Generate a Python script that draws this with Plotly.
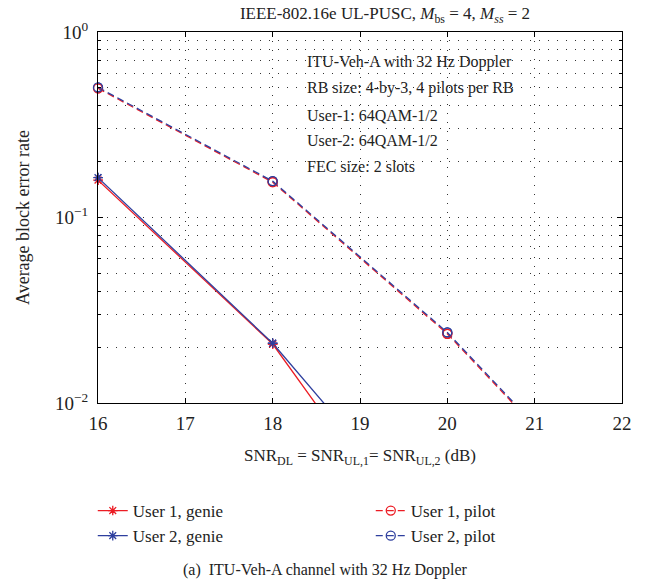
import plotly.graph_objects as go

snr = [16, 18, 20, 22]
u1_genie = [0.159, 0.0208, 0.00102, None]
u2_genie = [0.164, 0.0210, 0.00166, None]
u1_pilot = [0.497, 0.155, 0.0236, 0.00238]
u2_pilot = [0.503, 0.157, 0.0240, 0.00243]

names = ["User 1, genie", "User 1, pilot", "User 2, genie", "User 2, pilot"]
series = [u1_genie, u1_pilot, u2_genie, u2_pilot]
RED = "#ec1c24"
BLUE = "#2e3f9e"
colors = [RED, RED, BLUE, BLUE]
dashes = ["solid", "7px,4px", "solid", "7px,4px"]
symbols = ["asterisk-open", "circle-open", "asterisk-open", "circle-open"]
msizes = [8, 9, 8, 9]

FONT = "Liberation Serif"
TXT = "#222"
YMIN, YMAX = 0.01, 1.0
L, R, T, B = 98, 29, 32, 184
PW, PH = 651 - L - R, 587 - T - B

fig = go.Figure()
for n, s, c, d, sym, ms in zip(names, series, colors, dashes, symbols, msizes):
    fig.add_trace(go.Scatter(
        x=snr, y=s, name=n, mode="lines+markers",
        line=dict(color=c, width=1.3, dash=d),
        marker=dict(symbol=sym, size=ms, color=c, line=dict(width=1.3, color=c)),
        cliponaxis=True, connectgaps=False,
    ))
# unclipped markers for in-range points (so edge markers are fully visible)
for n, s, c, sym, ms in zip(names, series, colors, symbols, msizes):
    xs = [x for x, v in zip(snr, s) if v is not None and YMIN <= v <= YMAX]
    ys = [v for v in s if v is not None and YMIN <= v <= YMAX]
    fig.add_trace(go.Scatter(
        x=xs, y=ys, mode="markers", showlegend=False, hoverinfo="skip",
        marker=dict(symbol=sym, size=ms, color=c, line=dict(width=1.3, color=c)),
        cliponaxis=False,
    ))

x_ticks = [16, 17, 18, 19, 20, 21, 22]
y_ticks = [0.01, 0.1, 1]
y_ticktext = ["10<sup>−2</sup>", "10<sup>−1</sup>", "10<sup>0</sup>"]
y_minor = [m * 10 ** e for e in (-2, -1) for m in range(2, 10)]

grid_dash = "1px,8px"
GRID = "#333333"
fig.update_xaxes(
    range=[16, 22], tickvals=x_ticks, ticks="inside", ticklen=5, tickcolor="black",
    showline=True, linecolor="black", linewidth=1, mirror="allticks",
    showgrid=True, gridcolor=GRID, gridwidth=1, griddash=grid_dash,
    zeroline=False, tickfont=dict(family=FONT, size=19, color=TXT), ticklabelstandoff=3,
    title=dict(text="SNR<sub>DL</sub> = SNR<sub>UL,1</sub>= SNR<sub>UL,2</sub> (dB)",
               font=dict(family=FONT, size=17, color=TXT), standoff=16),
)
fig.update_yaxes(
    type="log", range=[-2, 0], tickvals=y_ticks, ticktext=y_ticktext,
    ticks="inside", ticklen=5, tickcolor="black",
    showline=True, linecolor="black", linewidth=1, mirror="allticks",
    showgrid=True, gridcolor=GRID, gridwidth=1, griddash=grid_dash,
    zeroline=False, tickfont=dict(family=FONT, size=19, color=TXT), ticklabelstandoff=5,
    minor=dict(tickvals=y_minor, ticks="inside", ticklen=3, tickcolor="black",
               showgrid=True, gridcolor=GRID, gridwidth=1, griddash=grid_dash),
    title=dict(text="Average block error rate", font=dict(family=FONT, size=18, color=TXT),
               standoff=20),
)

notes = ["ITU-Veh-A with 32 Hz Doppler", "RB size: 4-by-3, 4 pilots per RB",
         "User-1: 64QAM-1/2", "User-2: 64QAM-1/2", "FEC size: 2 slots"]
note_y = [62, 88, 115, 140, 166]
for t, yy in zip(notes, note_y):
    fig.add_annotation(text=t, xref="paper", yref="paper",
                       x=(305 - L) / PW, y=1 - (yy - T) / PH,
                       xanchor="left", yanchor="middle", showarrow=False,
                       font=dict(family=FONT, size=16, color=TXT))

fig.add_annotation(text="(a)  ITU-Veh-A channel with 32 Hz Doppler", xref="paper", yref="paper",
                   x=(325 - L) / PW, y=1 - (570 - T) / PH, xanchor="center", yanchor="middle",
                   showarrow=False, font=dict(family=FONT, size=16, color=TXT))

fig.update_layout(
    width=651, height=587, autosize=False,
    margin=dict(l=L, r=R, t=T, b=B, autoexpand=False),
    paper_bgcolor="white", plot_bgcolor="white",
    title=dict(text="IEEE-802.16e UL-PUSC, <i>M</i><sub>bs</sub> = 4, <i>M<sub>ss</sub></i> = 2",
               x=(385 - L) / PW, xref="paper", xanchor="center", y=1 - 13 / 587, yanchor="middle",
               font=dict(family=FONT, size=17, color=TXT)),
    legend=dict(orientation="h", x=-0.01, y=1 - (493 - T) / PH, xanchor="left", yanchor="top",
                entrywidth=233, entrywidthmode="pixels",
                font=dict(family=FONT, size=17, color=TXT), bgcolor="rgba(0,0,0,0)"),
    showlegend=True,
)

fig.write_html("out.html")
